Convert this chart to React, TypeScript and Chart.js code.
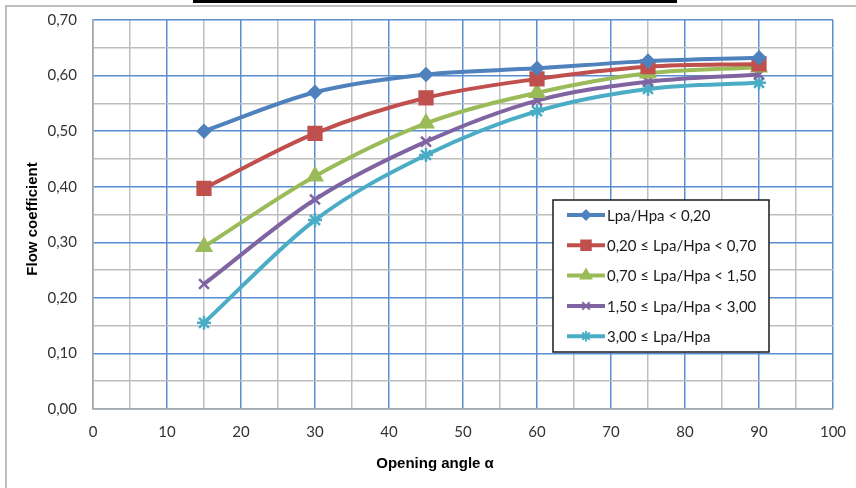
import React, { useEffect, useRef } from "react";
import { Chart, registerables } from "chart.js";
import { drawPoint } from "chart.js/helpers";

Chart.register(...registerables);

const angles = [15, 30, 45, 60, 75, 90];
const seriesLabels = [
  "Lpa/Hpa < 0,20",
  "0,20 ≤ Lpa/Hpa < 0,70",
  "0,70 ≤ Lpa/Hpa < 1,50",
  "1,50 ≤ Lpa/Hpa < 3,00",
  "3,00 ≤ Lpa/Hpa",
];
const s1 = [0.5, 0.57, 0.602, 0.613, 0.626, 0.632];
const s2 = [0.397, 0.496, 0.56, 0.594, 0.616, 0.621];
const s3 = [0.292, 0.419, 0.514, 0.569, 0.604, 0.615];
const s4 = [0.225, 0.377, 0.481, 0.555, 0.589, 0.602];
const s5 = [0.155, 0.34, 0.457, 0.536, 0.576, 0.587];
const seriesValues = [s1, s2, s3, s4, s5];
const colors = ["#4F81BD", "#C0504D", "#9BBB59", "#8064A2", "#4BACC6"];
const markers = ["rectRot", "rect", "triangle", "crossRot", "star"];
const markerSizes = [6, 9, 8, 7, 7];
const xTitle = "Opening angle α";
const yTitle = "Flow coefficient";

const TICK_FONT = "Lato, 'Open Sans', sans-serif";
const TITLE_FONT = "'Liberation Sans', Arial, sans-serif";

const framePlugin = {
  id: "frame",
  beforeDraw(chart: any) {
    const ctx = chart.ctx;
    ctx.save();
    ctx.fillStyle = "#ffffff";
    ctx.fillRect(0, 0, chart.width, chart.height);
    ctx.strokeStyle = "#bdbdbd";
    ctx.lineWidth = 2;
    ctx.beginPath();
    ctx.moveTo(6, chart.height);
    ctx.lineTo(6, 6);
    ctx.lineTo(chart.width, 6);
    ctx.stroke();
    ctx.fillStyle = "#000000";
    ctx.fillRect(193, 0, 484, 3);
    ctx.restore();
  },
  afterDraw(chart: any) {
    const ctx = chart.ctx;
    ctx.save();
    ctx.fillStyle = "#000000";
    ctx.font = "bold 15px " + TITLE_FONT;
    ctx.textAlign = "center";
    ctx.textBaseline = "middle";
    ctx.fillText(xTitle, 435, 464);
    ctx.translate(33, 219);
    ctx.rotate(-Math.PI / 2);
    ctx.fillText(yTitle, 0, 0);
    ctx.restore();
  },
};

const legendPlugin = {
  id: "customLegend",
  afterDatasetsDraw(chart: any) {
    const ctx = chart.ctx;
    const x0 = 553, y0 = 200, w = 216, h = 152;
    ctx.save();
    ctx.fillStyle = "#ffffff";
    ctx.fillRect(x0, y0, w, h);
    ctx.strokeStyle = "#1a1a1a";
    ctx.lineWidth = 1.5;
    ctx.strokeRect(x0, y0, w, h);
    chart.data.datasets.forEach((ds: any, i: number) => {
      const y = 215 + i * 30.3;
      ctx.strokeStyle = ds.borderColor;
      ctx.lineWidth = 4;
      ctx.beginPath();
      ctx.moveTo(567, y);
      ctx.lineTo(605, y);
      ctx.stroke();
      ctx.fillStyle = ds.borderColor;
      ctx.strokeStyle = ds.borderColor;
      ctx.lineWidth = 2;
      drawPoint(ctx, { pointStyle: ds.pointStyle, radius: ds.pointRadius * 0.75, rotation: 0, borderWidth: 2 }, 586, y);
      ctx.fillStyle = "#1a1a1a";
      ctx.font = "15px " + TICK_FONT;
      ctx.textAlign = "left";
      ctx.textBaseline = "middle";
      ctx.fillText(ds.label, 607, y + 1);
    });
    ctx.restore();
  },
};

export default function App() {
  const ref = useRef<HTMLCanvasElement>(null);
  useEffect(() => {
    document.body.style.margin = "0";
    const ctx = ref.current!.getContext("2d")!;
    const chart = new Chart(ctx, {
      type: "line",
      data: {
        datasets: seriesValues.map((vals, i) => ({
          label: seriesLabels[i],
          data: angles.map((a, j) => ({ x: a, y: vals[j] })),
          borderColor: colors[i],
          backgroundColor: colors[i],
          borderWidth: 4,
          pointStyle: markers[i] as any,
          pointRadius: markerSizes[i],
          pointBorderWidth: 2.5,
          pointBorderColor: colors[i],
          pointBackgroundColor: colors[i],
          cubicInterpolationMode: "monotone" as const,
          fill: false,
        })),
      },
      options: {
        animation: false,
        responsive: false,
        maintainAspectRatio: false,
        layout: { padding: { top: 20, right: 23, left: 0, bottom: 0 } },
        plugins: { legend: { display: false }, tooltip: { enabled: false } },
        scales: {
          x: {
            type: "linear",
            min: 0,
            max: 100,
            afterFit: (s: any) => {
              s.height = 79;
              s.paddingLeft = 0;
              s.paddingRight = 0;
            },
            ticks: {
              stepSize: 5,
              autoSkip: false,
              maxRotation: 0,
              padding: 14,
              color: "#333333",
              font: { family: TICK_FONT, size: 15 },
              callback: (v: any) => (Math.round(v) % 10 === 0 ? String(v) : ""),
            },
            grid: {
              drawTicks: false,
              lineWidth: 1.5,
              color: (c: any) => (c.tick && Math.round(c.tick.value) % 10 === 0 ? "#5B8ED0" : "#BEBEBE"),
            },
            border: { display: true, color: "#A8A8A8", width: 1.5 },
          },
          y: {
            type: "linear",
            min: 0,
            max: 0.7,
            afterFit: (s: any) => {
              s.width = 93;
              s.paddingTop = 0;
              s.paddingBottom = 0;
            },
            ticks: {
              stepSize: 0.05,
              autoSkip: false,
              padding: 16,
              color: "#333333",
              font: { family: TICK_FONT, size: 15 },
              callback: (v: any) => {
                const n = Math.round(v * 100);
                return n % 10 === 0 ? (n / 100).toFixed(2).replace(".", ",") : "";
              },
            },
            grid: {
              drawTicks: false,
              lineWidth: 1.5,
              color: (c: any) => (c.tick && Math.round(c.tick.value * 100) % 10 === 0 ? "#5B8ED0" : "#BEBEBE"),
            },
            border: { display: true, color: "#A8A8A8", width: 1.5 },
          },
        },
      },
      plugins: [framePlugin, legendPlugin],
    });
    return () => chart.destroy();
  }, []);
  return <canvas ref={ref} width={856} height={488} style={{ display: "block" }} />;
}
